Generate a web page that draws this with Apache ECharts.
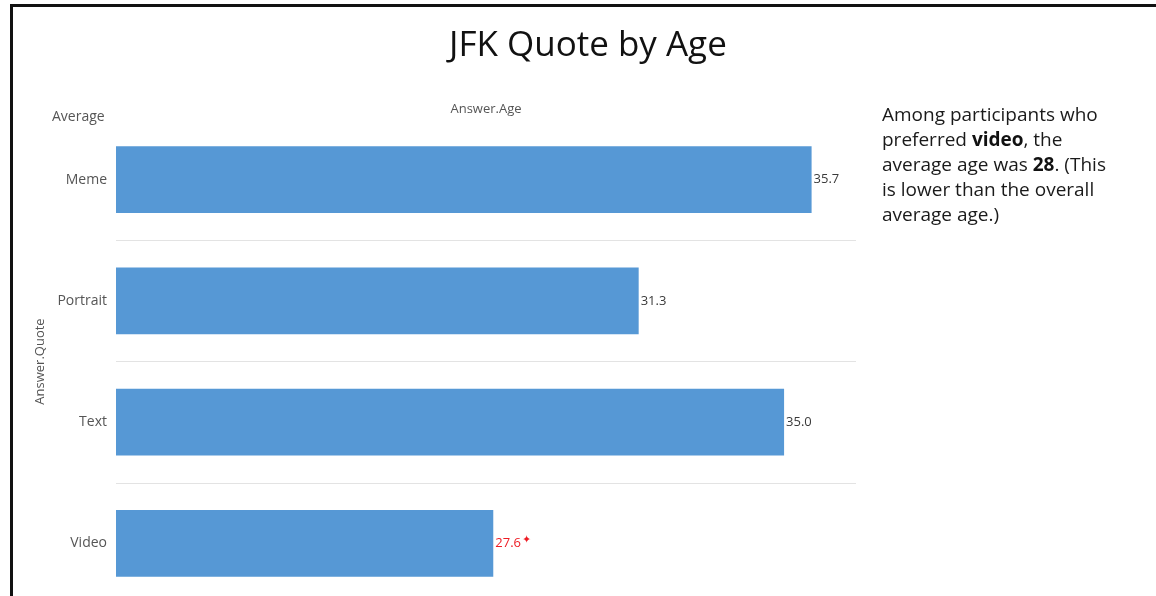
<!DOCTYPE html>
<html>
<head>
<meta charset="utf-8">
<script src="https://cdn.jsdelivr.net/npm/echarts@6/dist/echarts.min.js"></script>
<style>
  html, body { margin: 0; padding: 0; background: #fff; }
  #chart { width: 1156px; height: 596px; }
  #frame {
    position: absolute; left: 10px; top: 4px; right: 0; bottom: 0;
    border-top: 3px solid #111; border-left: 3px solid #111;
    pointer-events: none;
  }
</style>
</head>
<body>
<div id="chart"></div>
<div id="frame"></div>
<script>
// categories and average age per quote type
var quotes = ["Meme", "Portrait", "Text", "Video"];
var avgAge = [35.7, 31.3, 35.0, 27.6];
var flagged = "Video"; // marked red in the chart

var chart = echarts.init(document.getElementById("chart"));

var option = {
  animation: false,
  title: [
    {
      text: "JFK Quote by Age",
      left: 444,
      top: 24,
      textStyle: { fontFamily: "Open Sans", fontSize: 35, fontWeight: "normal", color: "#111" }
    },
    {
      text: "Average",
      left: 47,
      top: 105,
      textStyle: { fontFamily: "Open Sans", fontSize: 14, fontWeight: "normal", color: "#555" }
    },
    {
      // side note
      text: "Among participants who\npreferred {b|video}, the\naverage age was {b|28}. (This\nis lower than the overall\naverage age.)",
      left: 877,
      top: 98,
      textStyle: {
        fontFamily: "Open Sans", fontSize: 19, fontWeight: "normal", color: "#1a1a1a", lineHeight: 25,
        rich: { b: { fontFamily: "Open Sans", fontSize: 19, fontWeight: "bold", color: "#111", lineHeight: 25 } }
      }
    }
  ],
  grid: { left: 116, right: 300, top: 119, height: 485, outerBoundsMode: "none" },
  xAxis: {
    type: "value",
    position: "top",
    min: 18,
    max: 36.83,
    name: "Answer.Age",
    nameLocation: "middle",
    nameGap: 3,
    nameTextStyle: { fontFamily: "Open Sans", fontSize: 13, color: "#555" },
    axisLine: { show: false },
    axisTick: { show: false },
    axisLabel: { show: false },
    splitLine: { show: false }
  },
  yAxis: {
    type: "category",
    inverse: true,
    data: quotes,
    name: "Answer.Quote",
    nameLocation: "middle",
    nameGap: 68,
    nameTextStyle: { fontFamily: "Open Sans", fontSize: 13, color: "#555" },
    axisLine: { show: false },
    axisTick: { show: false },
    axisLabel: { fontFamily: "Open Sans", fontSize: 14, color: "#555", margin: 9 },
    splitLine: {
      show: true,
      interval: function (i) { return i > 0; },
      lineStyle: { color: "#e3e3e3", width: 1 }
    }
  },
  series: [
    {
      type: "bar",
      data: avgAge.map(function (v, i) {
        var item = { value: v };
        if (quotes[i] === flagged) {
          item.label = { formatter: "{r|{c}}{s|✦}" };
        }
        return item;
      }),
      barWidth: "55%",
      itemStyle: { color: "#5698d5" },
      label: {
        show: true,
        position: "right",
        distance: 2,
        formatter: function (p) { return p.value.toFixed(1); },
        fontFamily: "Open Sans",
        fontSize: 13,
        color: "#3a3a3a",
        rich: {
          r: { fontFamily: "Open Sans", fontSize: 13, color: "#ee1c24" },
          s: { fontSize: 11, color: "#ee1c24", verticalAlign: "top", padding: [0, 0, 8, 1] }
        }
      }
    }
  ]
};

chart.setOption(option);
</script>
</body>
</html>
